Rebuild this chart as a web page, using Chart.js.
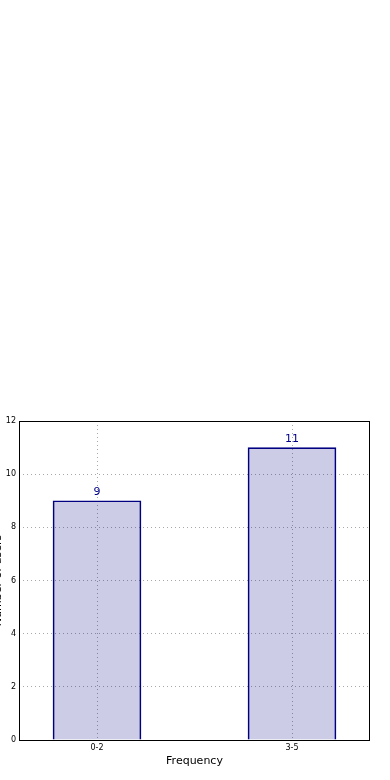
<!DOCTYPE html>
<html>
<head>
<meta charset="utf-8">
<script src="https://cdn.jsdelivr.net/npm/chart.js@4"></script>
<style>
	html, body { margin: 0; padding: 0; background: #ffffff; }
	#freqChart { display: block; }
</style>
</head>
<body>
<canvas id="freqChart" width="390" height="780"></canvas>
<script>
const categories = ['0-2', '3-5'];
const counts = [9, 11];
const yMax = 12;
const yStep = 2;
const xTitle = 'Frequency';
const yTitle = 'Number of users';

(function () {
	const navy = '#000080';
	const gridColor = '#a8a8a8';
	const fontFamily = '"DejaVu Sans", sans-serif';

	// value text over each bar, taken from the bar elements
	const barValues = {
		id: 'barValues',
		afterDraw(chart) {
			const ctx = chart.ctx;
			const meta = chart.getDatasetMeta(0);
			ctx.save();
			ctx.font = '11px ' + fontFamily;
			ctx.fillStyle = '#00008b';
			ctx.textAlign = 'center';
			ctx.textBaseline = 'bottom';
			meta.data.forEach(function (bar, i) {
				ctx.fillText(String(counts[i]), bar.x, bar.y - 3);
			});
			ctx.restore();
		},
	};

	// black box round the plot + y title that runs off the left edge
	const frame = {
		id: 'frame',
		afterDraw(chart) {
			const ctx = chart.ctx;
			const a = chart.chartArea;
			ctx.save();
			ctx.strokeStyle = '#000000';
			ctx.lineWidth = 1;
			ctx.strokeRect(Math.round(a.left) + 0.5, Math.round(a.top) + 0.5,
				Math.round(a.right - a.left) - 1, Math.round(a.bottom - a.top));
			ctx.translate(-2, (a.top + a.bottom) / 2);
			ctx.rotate(-Math.PI / 2);
			ctx.font = '11px ' + fontFamily;
			ctx.fillStyle = '#000000';
			ctx.textAlign = 'center';
			ctx.textBaseline = 'middle';
			ctx.fillText(yTitle, 0, 0);
			ctx.restore();
		},
	};

	const ctx = document.getElementById('freqChart').getContext('2d');
	new Chart(ctx, {
		type: 'bar',
		data: {
			datasets: [
				{
					data: counts.map(function (v, i) { return { x: i, y: v }; }),
					backgroundColor: 'rgba(0, 0, 128, 0.2)',
					borderColor: navy,
					borderWidth: 1,
					barThickness: 88,
				},
			],
		},
		options: {
			responsive: false,
			animation: false,
			devicePixelRatio: 1,
			layout: {
				padding: { top: 421, right: 20, left: 0, bottom: 0 },
			},
			plugins: {
				legend: { display: false },
				tooltip: { enabled: false },
			},
			scales: {
				x: {
					type: 'linear',
					min: -0.4,
					max: 1.4,
					offset: false,
					z: 1,
					afterBuildTicks: function (scale) {
						scale.ticks = categories.map(function (c, i) { return { value: i }; });
					},
					afterFit: function (scale) {
						scale.height = 40;
					},
					ticks: {
						padding: 3,
						color: '#000000',
						font: { family: fontFamily, size: 8 },
						callback: function (value) {
							return categories[value];
						},
					},
					grid: {
						offset: false,
						color: gridColor,
						lineWidth: 1,
						tickLength: 0,
					},
					border: { display: false, dash: [1, 3] },
					title: {
						display: true,
						text: xTitle,
						color: '#000000',
						font: { family: fontFamily, size: 11 },
						padding: { top: 0, bottom: 12 },
					},
				},
				y: {
					min: 0,
					max: yMax,
					z: 1,
					afterFit: function (scale) {
						scale.width = 19;
					},
					ticks: {
						stepSize: yStep,
						padding: 3,
						color: '#000000',
						font: { family: fontFamily, size: 8 },
					},
					grid: {
						color: gridColor,
						lineWidth: 1,
						tickLength: 0,
					},
					border: { display: false, dash: [1, 3] },
				},
			},
		},
		plugins: [barValues, frame],
	});
})();
</script>
</body>
</html>
